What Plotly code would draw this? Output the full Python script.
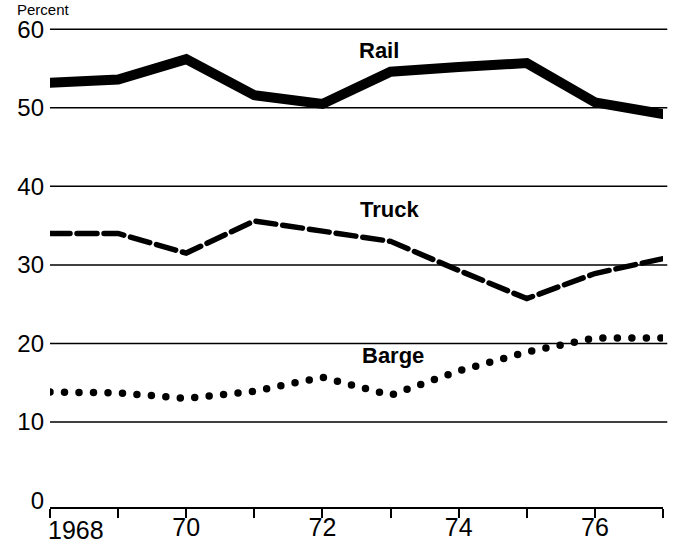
import plotly.graph_objects as go

years = list(range(1968, 1978))
rail = [53.2, 53.6, 56.2, 51.6, 50.5, 54.6, 55.2, 55.7, 50.7, 49.2]
truck = [34.0, 34.0, 31.5, 35.6, 34.3, 33.0, 29.3, 25.7, 28.9, 30.8]
barge = [13.8, 13.7, 13.0, 13.9, 15.7, 13.4, 16.5, 18.9, 20.7, 20.7]

x_ticks = years
x_labels = ["", "", "70", "", "72", "", "74", "", "76", ""]
y_ticks = [0, 10, 20, 30, 40, 50, 60]
grid_vals = [10, 20, 30, 40, 50, 60]

font_family = "Liberation Sans, Arial, sans-serif"
narrow_family = "Liberation Sans Narrow, Arial Narrow, sans-serif"

fig = go.Figure()
fig.add_trace(go.Scatter(x=years, y=rail, mode="lines", name="Rail",
                         line=dict(color="black", width=10)))
fig.add_trace(go.Scatter(x=years, y=truck, mode="lines", name="Truck",
                         line=dict(color="black", width=5.5, dash="20px,7px")))
fig.add_trace(go.Scatter(x=years, y=barge, mode="lines", name="Barge",
                         line=dict(color="black", width=7.5, dash="0px,14.5px")))

# horizontal rules (no rule at 0, the axis line sits just below it)
for g in grid_vals:
    fig.add_shape(type="line", xref="paper", yref="y", x0=0, x1=1.007, y0=g, y1=g,
                  line=dict(color="black", width=1.5), layer="below")

# series labels
for txt, xx, yy in [("Rail", 1972.83, 57.3), ("Truck", 1972.99, 37.0), ("Barge", 1973.04, 18.4)]:
    fig.add_annotation(x=xx, y=yy, text=f"<b>{txt}</b>", showarrow=False,
                       font=dict(size=22, color="black", family=font_family))

fig.add_annotation(x=0, y=1, xref="paper", yref="paper", xanchor="left",
                   yanchor="bottom", xshift=-35, yshift=6, text="Percent",
                   showarrow=False, font=dict(size=15, color="black", family=font_family))

# first year label starts at the axis corner
fig.add_annotation(x=1968, y=0, xref="x", yref="paper", xanchor="left",
                   yanchor="top", xshift=-4, yshift=-7, text="1968",
                   showarrow=False, font=dict(size=25, color="black", family=narrow_family))

fig.update_layout(
    width=679, height=544,
    margin=dict(l=50, r=16, t=26, b=37),
    plot_bgcolor="white", paper_bgcolor="white",
    showlegend=False,
    font=dict(family=font_family, color="black", size=24),
)
fig.update_xaxes(range=[1968, 1977], tickvals=x_ticks, ticktext=x_labels,
                 ticks="outside", ticklen=9, tickwidth=2, tickcolor="black",
                 tickfont=dict(family=narrow_family, size=25), automargin=False,
                 ticklabelstandoff=-12,
                 showline=True, linecolor="black", linewidth=2,
                 showgrid=False, zeroline=False)
fig.update_yaxes(range=[-0.83, 60.42], tickvals=y_ticks, showgrid=False, automargin=False,
                 zeroline=False, showline=False, ticks="", ticklabelstandoff=5)

fig.write_html("out.html", config={"displayModeBar": False}, post_script="""
document.body.style.margin='0';
document.querySelectorAll('.js-line').forEach(function(p){p.style.strokeLinecap='round';});
""")
